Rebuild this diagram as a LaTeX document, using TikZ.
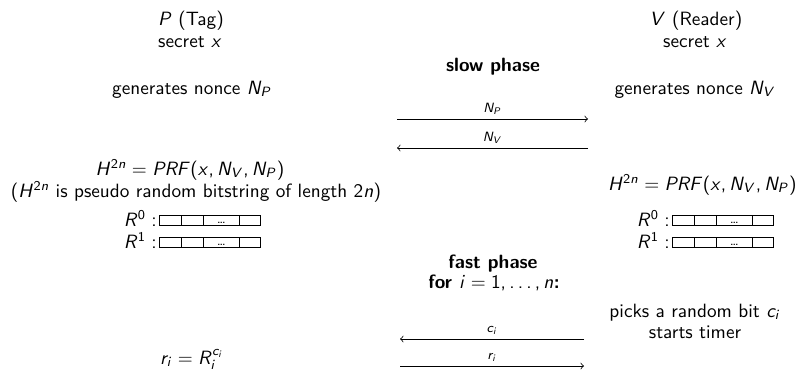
\documentclass[tikz,border=0pt]{standalone}
\usepackage[no-math]{fontspec}
\SetSymbolFont{operators}{normal}{OT1}{cmss}{m}{n}
\SetSymbolFont{letters}{normal}{OT1}{cmss}{m}{sl}
\DeclareMathSymbol{,}{\mathpunct}{operators}{`,}
\DeclareMathSymbol{\ldotp}{\mathpunct}{operators}{`.}
\renewcommand{\familydefault}{\sfdefault}
\begin{document}
\begin{tikzpicture}[x=0.52pt,y=-0.52pt,
  txt/.style={anchor=base,inner sep=0pt},
  lbl/.style={anchor=base,inner sep=0pt,font=\scriptsize,midway,yshift=3.5pt},
  msg/.style={->,line width=0.4pt},
  cell/.style={draw,line width=0.5pt}]
\useasboundingbox (0,0) rectangle (800,374);
\newcommand{\regbox}[3]{%
  \draw[cell] (#1,#2) rectangle ++(101.4,10);
  \draw[cell] (#1+22.4,#2) -- ++(0,10);
  \draw[cell] (#1+44,#2) -- ++(0,10);
  \draw[cell] (#1+80,#2) -- ++(0,10);
  \node[inner sep=0pt,anchor=base,font=\scriptsize] (#3) at (#1+62,#2+8) {\dots};}
% left column
\node[txt] (ptag) at (191,25) {$P$ (Tag)};
\node[txt] (psec) at (190,47) {secret $x$};
\node[txt] (pnon) at (192,94) {generates nonce $N_P$};
\node[txt] (ph) at (190,175) {$H^{2n} = PRF(x, N_V, N_P)$};
\node[txt] (pexp) at (196,197) {($H^{2n}$ is pseudo random bitstring of length $2n$)};
\node[txt,anchor=base east] (pr0) at (157,226) {$R^0:$};
\node[txt,anchor=base east] (pr1) at (157,248) {$R^1:$};
\regbox{159.3}{215.7}{pd0}
\regbox{159.3}{237.7}{pd1}
\node[txt] (pri) at (192,364) {$r_i = R_i^{c_i}$};
% right column
\node[txt] (vtag) at (696,25) {$V$ (Reader)};
\node[txt] (vsec) at (695,47) {secret $x$};
\node[txt] (vnon) at (695,94) {generates nonce $N_V$};
\node[txt,anchor=base east] (vh) at (797,190) {$H^{2n} = PRF(x, N_V, N_P)$};
\node[txt,anchor=base east] (vr0) at (670,226) {$R^0:$};
\node[txt,anchor=base east] (vr1) at (670,248) {$R^1:$};
\regbox{672.3}{215.7}{vd0}
\regbox{672.3}{237.7}{vd1}
\node[txt] (vpick) at (695,317) {picks a random bit $c_i$};
\node[txt] (vtimer) at (695,338) {starts timer};
% middle
\node[txt,font=\bfseries] (slow) at (493,71) {slow phase};
\node[txt,font=\bfseries] (fast) at (493,268) {fast phase};
\node[txt,font=\bfseries] (loop) at (494,288) {for $i = 1, \ldots, n$:};
\coordinate (a1l) at (397,119);  \coordinate (a1r) at (588,119);
\coordinate (a2l) at (397,148);  \coordinate (a2r) at (588,148);
\coordinate (a3l) at (400,339);  \coordinate (a3r) at (584,339);
\coordinate (a4l) at (400,366);  \coordinate (a4r) at (584,366);
\draw[msg] (a1l) -- node[lbl] (lnp) {$N_P$} (a1r);
\draw[msg] (a2r) -- node[lbl] (lnv) {$N_V$} (a2l);
\draw[msg] (a3r) -- node[lbl] (lci) {$c_i$} (a3l);
\draw[msg] (a4l) -- node[lbl] (lri) {$r_i$} (a4r);
\end{tikzpicture}
\end{document}
